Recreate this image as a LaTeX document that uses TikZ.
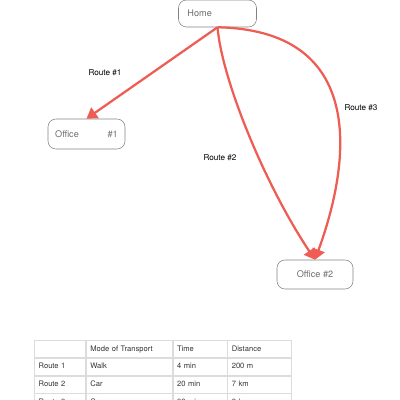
\documentclass[tikz,border=0pt]{standalone}
\usepackage{fontspec}
\setmainfont{TeX Gyre Heros}
\usetikzlibrary{arrows.meta,matrix}
\definecolor{routeRed}{RGB}{238,92,84}
\definecolor{boxGray}{RGB}{130,130,130}
\definecolor{txtGray}{RGB}{110,110,110}
\definecolor{gridGray}{RGB}{220,220,220}

\begin{document}
\begin{tikzpicture}[x=0.025cm,y=-0.025cm,
  place/.style={draw=boxGray,line width=0.4pt,rounded corners=0.2cm,text=txtGray,font=\fontsize{6.5}{8}\selectfont},
  route/.style={draw=routeRed,line width=1.6pt,-{Triangle[length=0.26cm,width=0.32cm]}},
  lbl/.style={font=\fontsize{5.8}{7}\selectfont},
  cell/.style={draw=gridGray,line width=0.5pt,outer sep=0pt,inner xsep=0.1cm,minimum height=0.425cm,
    text height=4pt,text depth=1.2pt,align=left,text=black!80,font=\fontsize{5.4}{6.5}\selectfont}]
  \useasboundingbox (0,0) rectangle (400,400);
  \clip (0,0) rectangle (400,400);
  % places
  \node[place,minimum width=1.95cm,minimum height=0.675cm,inner xsep=0.225cm,text width=1.5cm,align=left] (home) at (217.5,13.5) {Home};
  \node[place,minimum width=1.925cm,minimum height=0.75cm,inner xsep=0.18cm,text width=1.565cm,align=left] (office1) at (86.5,134) {Office\hfill\#1};
  \node[place,minimum width=1.9cm,minimum height=0.725cm] (office2) at (315,274.5) {Office \#2};
  % routes
  \draw[route] (home.south) -- (office1.north);
  \draw[route] (home.south) .. controls (222,80) and (265,185) .. (office2.north);
  \draw[route] (home.south) .. controls (360,30) and (355,150) .. (office2.north);
  \node[lbl] (r1) at (105,73) {Route \#1};
  \node[lbl] (r2) at (220,157.5) {Route \#2};
  \node[lbl] (r3) at (361,108) {Route \#3};
  % table
  \matrix (routes) [matrix of nodes,nodes in empty cells,anchor=north west,inner sep=0pt,nodes={cell},
    column 1/.style={nodes={text width=1.075cm}},
    column 2/.style={nodes={text width=1.95cm}},
    column 3/.style={nodes={text width=1.15cm}},
    column 4/.style={nodes={text width=1.4cm}}] at (34,340) {
     & Mode of Transport & Time & Distance \\
    Route 1 & Walk & 4 min & 200 m \\
    Route 2 & Car & 20 min & 7 km \\
    Route 3 & Car & 30 min & 9 km \\
  };
\end{tikzpicture}
\end{document}
